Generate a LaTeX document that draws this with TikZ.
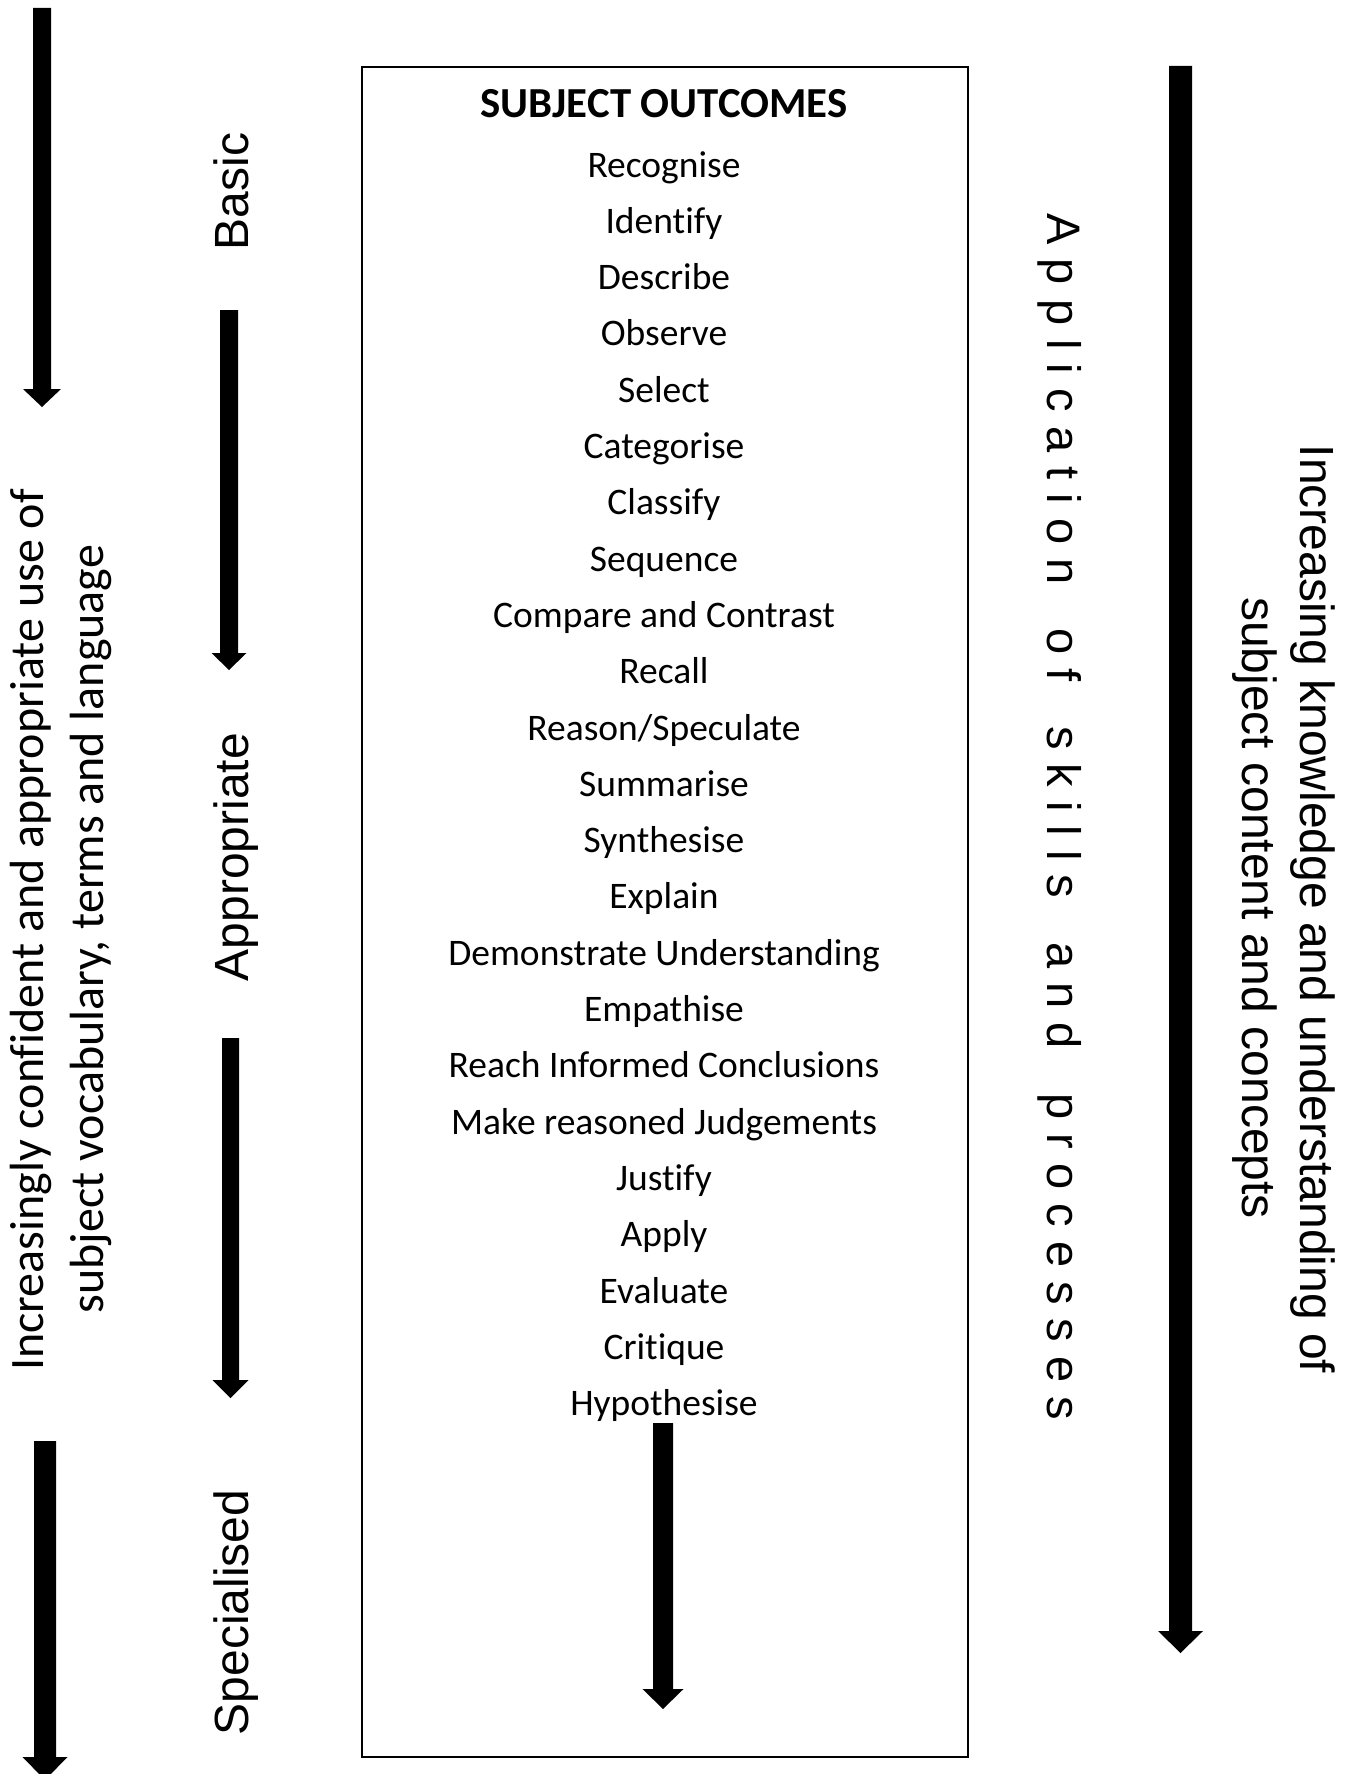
\documentclass[tikz,border=0pt]{standalone}
\usepackage{fontspec}
\setmainfont[Ligatures=NoCommon]{Carlito}
\newfontfamily\arialf{Liberation Sans}
\newfontfamily\arialsp[LetterSpace=30]{Liberation Sans}
\begin{document}
\begin{tikzpicture}[x=1pt,y=-1pt,
  item/.style={anchor=base,inner sep=0pt,font=\fontsize{37.5}{44}\selectfont},
  title/.style={anchor=center,inner sep=0pt,font=\bfseries\fontsize{42.8}{50}\selectfont},
  level/.style={anchor=base,inner sep=0pt,rotate=90,font=\arialf\fontsize{48}{56}\selectfont},
  lefttext/.style={anchor=base,inner sep=0pt,rotate=90,font=\fontsize{48}{56}\selectfont},
  righttext/.style={anchor=base,inner sep=0pt,rotate=-90,font=\arialf\fontsize{48}{56}\selectfont},
  apptext/.style={anchor=base,inner sep=0pt,rotate=-90,font=\arialsp\fontsize{47}{56}\selectfont},
  outbox/.style={draw=black,line width=1.5pt},
  blk/.style={fill=black}]
\useasboundingbox (0,0) rectangle (1351,1774);
% block arrow: centre x, top y, head base y, tip y, shaft half width, head half width
\newcommand\blockarrow[6]{%
  \fill[blk] (#1-#5,#2) -- (#1+#5,#2) -- (#1+#5,#3) -- (#1+#6,#3) -- (#1,#4)
    -- (#1-#6,#3) -- (#1-#5,#3) -- cycle;}
\newcommand\wsp{\hspace{17pt}}
% outcomes box
\draw[outbox] (362,67) rectangle (968,1757);
\node[title] (t0) at (664,104) {SUBJECT OUTCOMES};
\foreach \i/\w in {0/Recognise,1/Identify,2/Describe,3/Observe,4/Select,5/Categorise,
  6/Classify,7/Sequence,8/{Compare and Contrast},9/Recall,10/{Reason/Speculate},
  11/Summarise,12/Synthesise,13/Explain,14/{Demonstrate Understanding},15/Empathise,
  16/{Reach Informed Conclusions},17/{Make reasoned Judgements},18/Justify,19/Apply,
  20/Evaluate,21/Critique,22/Hypothesise}
  \node[item] (o\i) at (664,177+56.3*\i) {\w};
% level labels
\node[level] (basic) at (248,191.5) {Basic};
\node[level] (appr) at (248,857) {Appropriate};
\node[level] (spec) at (248,1612.5) {Specialised};
% left text
\node[lefttext] (l1) at (43,930) {Increasingly confident and appropriate use of};
\node[lefttext] (l2) at (103,929) {subject vocabulary, terms and language};
% right text
\node[righttext] (r1) at (1300,909) {Increasing knowledge and understanding of};
\node[righttext] (r2) at (1242,908) {subject content and concepts};
\node[apptext] (app) at (1047,817) {Application\wsp{} of\wsp{} skills\wsp{} and\wsp{} processes};
% arrows
\blockarrow{42}{8}{389}{407}{9}{19}
\blockarrow{229}{310}{653}{670}{9}{17.5}
\blockarrow{230.5}{1038}{1380}{1398}{8.5}{18}
\blockarrow{45}{1441}{1757}{1780}{11}{22.5}
\blockarrow{663}{1423}{1689}{1709}{10}{20.5}
\blockarrow{1180.5}{66}{1631}{1653}{11.5}{22.5}
\end{tikzpicture}
\end{document}
